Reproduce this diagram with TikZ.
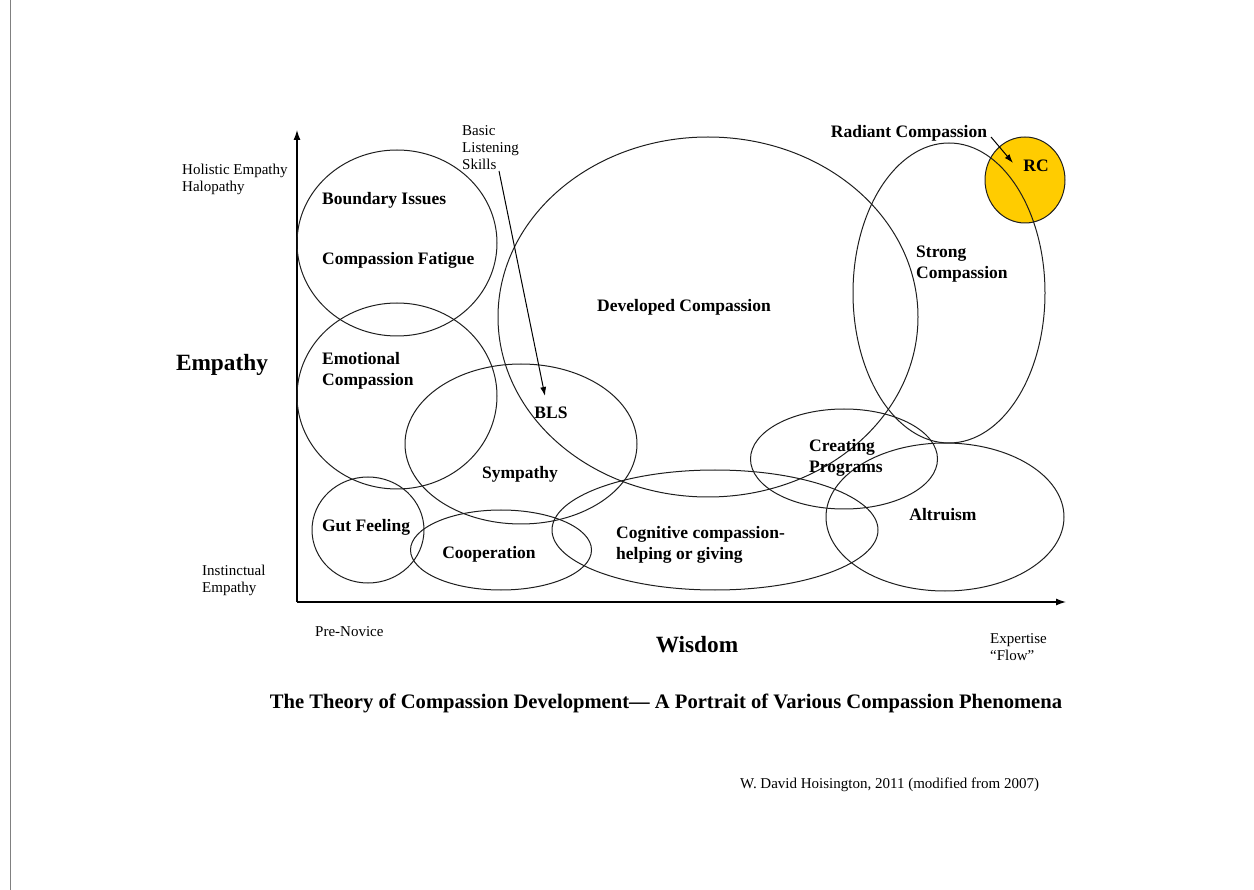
\documentclass[tikz,border=0pt]{standalone}
\usepackage{fontspec}
\setmainfont{Liberation Serif}
\usetikzlibrary{shapes.geometric,arrows.meta}
\definecolor{gold}{RGB}{255,204,0}
\definecolor{edge}{RGB}{30,30,30}
\begin{document}
\begin{tikzpicture}[x=1pt,y=-1pt,
  ell/.style={draw=edge,line width=1pt,ellipse,inner sep=0pt},
  lbl/.style={font=\fontsize{17.5}{21}\selectfont\bfseries,inner sep=0pt,align=left,yshift=-2pt},
  small/.style={font=\fontsize{15}{17}\selectfont,inner sep=0pt,align=left,yshift=-2pt},
  big/.style={font=\fontsize{23.3}{26}\selectfont\bfseries,inner sep=0pt,yshift=-2.5pt},
  axis/.style={line width=1.3pt,-{Latex[length=10pt,width=7pt]}},
  arr/.style={line width=1pt,-{Latex[length=9pt,width=6pt]}}]
\useasboundingbox (0,0) rectangle (1254,890);
% page border line
\draw[gray,line width=1pt] (10,0) -- (10,890);
% axes
\coordinate (origin) at (297,602);
\coordinate (ytop) at (297,130);
\coordinate (xend) at (1066,602);
\draw[axis] (origin) -- (ytop);
\draw[axis] (origin) -- (xend);
% filled RC circle first
\node[ell,fill=gold,minimum width=80pt,minimum height=86pt] (rc) at (1025,180) {};
% ellipses
\node[ell,minimum width=200pt,minimum height=186pt] (bi) at (397,243) {};
\node[ell,minimum width=200pt,minimum height=186pt] (ec) at (397,396) {};
\node[ell,minimum width=232pt,minimum height=160pt] (sy) at (521,444) {};
\node[ell,minimum width=112pt,minimum height=106pt] (gf) at (368,530) {};
\node[ell,minimum width=181pt,minimum height=80pt] (co) at (501,550) {};
\node[ell,minimum width=326pt,minimum height=120pt] (cc) at (715,530) {};
\node[ell,minimum width=187pt,minimum height=100pt] (cp) at (844,459) {};
\node[ell,minimum width=238pt,minimum height=148pt] (al) at (945,517) {};
\node[ell,minimum width=420pt,minimum height=360pt] (dc) at (708,317) {};
\node[ell,minimum width=192pt,minimum height=300pt] (sc) at (949,293) {};
% axis labels
\node[small,anchor=west] (hol) at (182,177.5) {Holistic Empathy\\Halopathy};
\node[small,anchor=west] (ins) at (202,578.5) {Instinctual\\Empathy};
\node[small,anchor=west] (pre) at (315,630) {Pre-Novice};
\node[small,anchor=west] (exp) at (990,645) {Expertise\\“Flow”};
\node[big] (emp) at (222,362) {Empathy};
\node[big] (wis) at (697,642) {Wisdom};
\node[font=\fontsize{20.6}{24}\selectfont\bfseries,inner sep=0pt,yshift=-2pt] (title) at (666,701) {The Theory of Compassion Development— A Portrait of Various Compassion Phenomena};
\node[small,anchor=west] (cred) at (740,783) {W. David Hoisington, 2011 (modified from 2007)};
% ellipse labels
\node[lbl,anchor=west] (tbi) at (322,198) {Boundary Issues};
\node[lbl,anchor=west] (tcf) at (322,258) {Compassion Fatigue};
\node[lbl,anchor=west] (tec) at (322,368.5) {Emotional\\Compassion};
\node[lbl] (bls) at (551,411) {BLS};
\node[lbl] (tsy) at (520,472) {Sympathy};
\node[lbl] (tdc) at (684,305) {Developed Compassion};
\node[lbl] (tgf) at (366,525) {Gut Feeling};
\node[lbl] (tco) at (489,552) {Cooperation};
\node[lbl,anchor=west] (tcc) at (616,543) {Cognitive compassion-\\helping or giving};
\node[lbl,anchor=west] (tcp) at (809,456) {Creating\\Programs};
\node[lbl] (tal) at (943,513) {Altruism};
\node[lbl,anchor=west] (tsc) at (916,262) {Strong\\Compassion};
\node[lbl] (trad) at (909,131) {Radiant Compassion};
\node[lbl] (trc) at (1036,164) {RC};
\node[small,anchor=west] (basic) at (462,146) {Basic\\Listening\\Skills};
% arrows
\coordinate (blsA) at (499,171);
\coordinate (blsB) at (545,396);
\draw[arr] (blsA) -- (blsB);
\coordinate (rcA) at (991,137);
\coordinate (rcB) at (1013,163);
\draw[arr] (rcA) -- (rcB);
\end{tikzpicture}
\end{document}
